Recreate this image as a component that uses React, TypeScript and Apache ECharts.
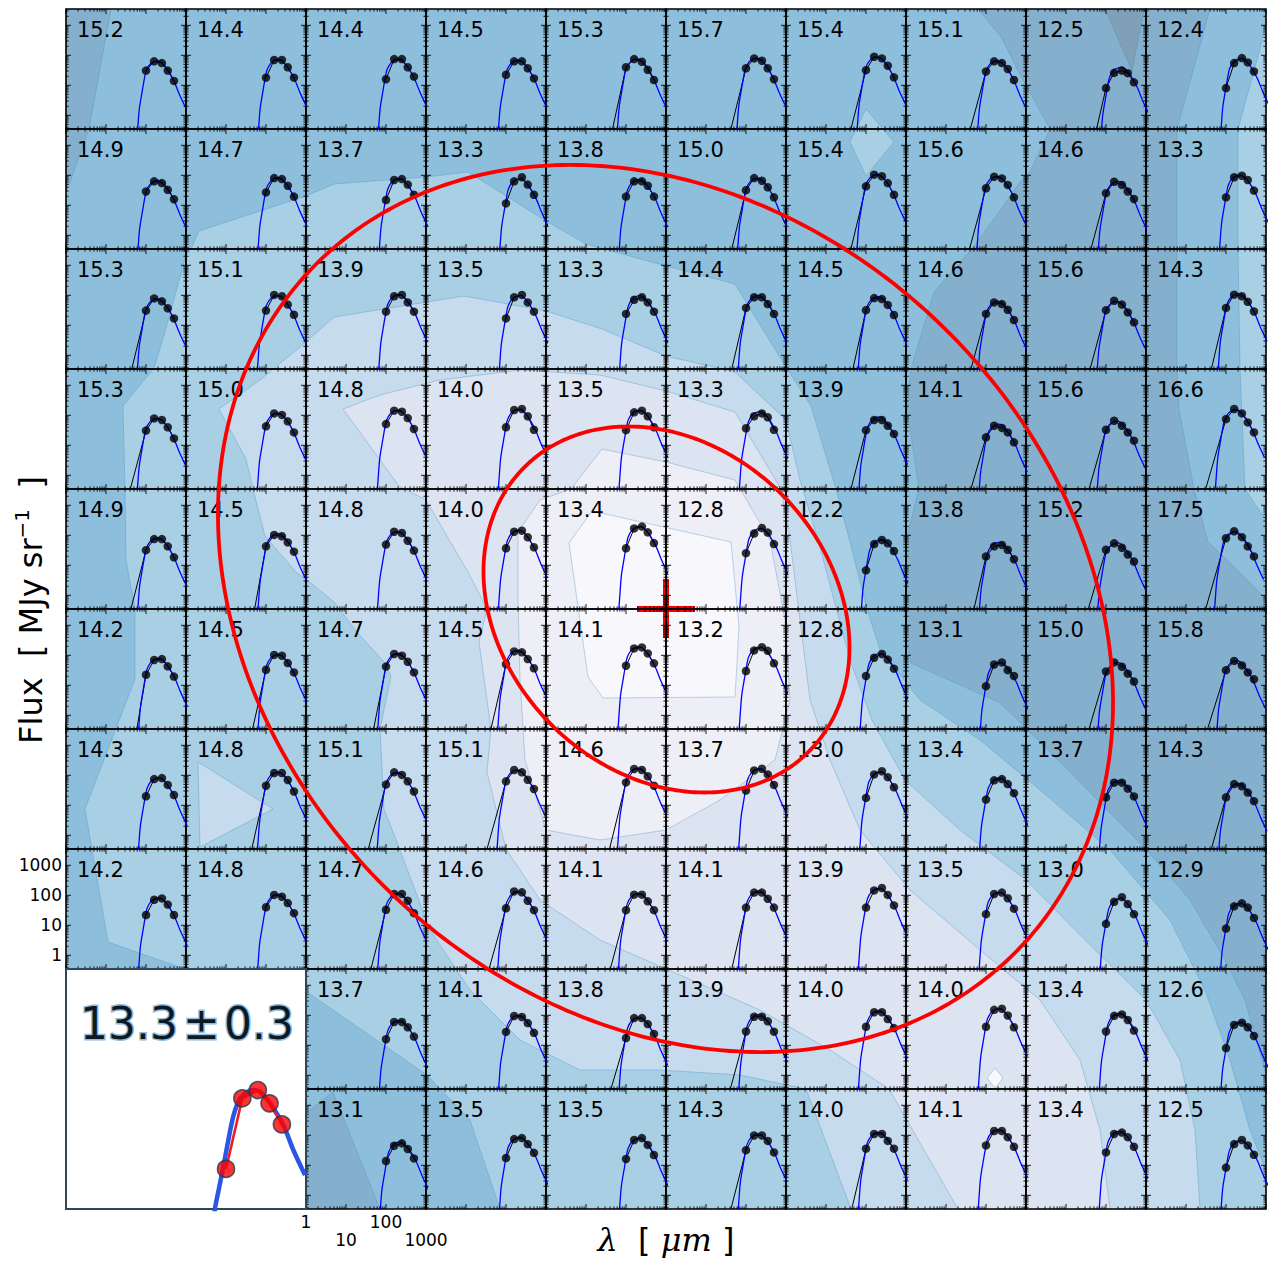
import React, { useEffect, useRef } from "react";
import * as echarts from "echarts";

// ---------------- data ----------------
const TEMPERATURES: (number | null)[][] = [
  [15.2, 14.4, 14.4, 14.5, 15.3, 15.7, 15.4, 15.1, 12.5, 12.4],
  [14.9, 14.7, 13.7, 13.3, 13.8, 15.0, 15.4, 15.6, 14.6, 13.3],
  [15.3, 15.1, 13.9, 13.5, 13.3, 14.4, 14.5, 14.6, 15.6, 14.3],
  [15.3, 15.0, 14.8, 14.0, 13.5, 13.3, 13.9, 14.1, 15.6, 16.6],
  [14.9, 14.5, 14.8, 14.0, 13.4, 12.8, 12.2, 13.8, 15.2, 17.5],
  [14.2, 14.5, 14.7, 14.5, 14.1, 13.2, 12.8, 13.1, 15.0, 15.8],
  [14.3, 14.8, 15.1, 15.1, 14.6, 13.7, 13.0, 13.4, 13.7, 14.3],
  [14.2, 14.8, 14.7, 14.6, 14.1, 14.1, 13.9, 13.5, 13.0, 12.9],
  [null, null, 13.7, 14.1, 13.8, 13.9, 14.0, 14.0, 13.4, 12.6],
  [null, null, 13.1, 13.5, 13.5, 14.3, 14.0, 14.1, 13.4, 12.5],
];

const WAVELENGTHS = [100, 160, 250, 350, 500];

const FLUX_ROW_0 = [[31, 63, 55, 31, 14], [18, 70, 70, 40, 18], [16, 75, 75, 40, 19.5], [22.5, 63, 63, 37, 17], [40, 75, 61, 33, 15], [37, 79, 66, 37, 16], [32, 90, 79, 45, 18.5], [29, 63, 55, 35, 15], [8.1, 26, 31, 25.5, 12.6], [8.1, 55, 81, 58, 29]];
const FLUX_ROW_1 = [[29, 63, 55, 33, 16], [27, 81, 75, 45, 19.5], [15, 70, 75, 49, 22.5], [11.6, 63, 86, 49, 22.5], [19.5, 63, 63, 45, 19.5], [32, 81, 66, 40, 18.5], [43, 105, 93, 55, 22.5], [37, 90, 79, 48, 18.5], [25.5, 61, 48, 29, 16.3], [18.5, 86, 97, 70, 31]];
const FLUX_ROW_2 = [[31, 79, 63, 37, 17], [31, 103, 93, 49, 22.5], [28.5, 93, 103, 58, 28.5], [17, 86, 103, 58, 28.5], [24, 71, 86, 58, 28.5], [38, 86, 86, 51, 24], [32, 81, 75, 48, 22], [24, 58, 51, 33, 15], [32, 66, 49, 27, 12.6], [38, 105, 93, 61, 29]];
const FLUX_ROW_3 = [[31, 79, 70, 40, 17], [43, 116, 103, 63, 27], [51, 143, 132, 81, 35], [40, 150, 163, 93, 33], [32, 126, 143, 93, 40], [37, 93, 116, 86, 33], [32, 70, 70, 45, 24], [18.5, 45, 38, 27, 12.6], [33, 66, 45, 27, 14.3], [75, 163, 116, 58, 27]];
const FLUX_ROW_4 = [[32, 75, 75, 43, 18.5], [43, 103, 93, 58, 28.5], [49, 132, 119, 66, 31], [37, 132, 143, 86, 40], [37, 170, 195, 126, 55], [25.5, 115, 175, 123, 51], [6.8, 51, 70, 54, 30], [19.8, 43, 48, 33, 16], [33, 54, 38.5, 23, 13.4], [80, 137, 87, 43, 19.8]];
const FLUX_ROW_5 = [[22.5, 70, 75, 43, 19.5], [33, 103, 97, 55, 27], [42, 111, 97, 61, 27], [51, 135, 126, 75, 37], [45, 170, 184, 116, 54], [30, 146, 187, 141, 54], [20.5, 83, 111, 72, 36], [9.4, 49.5, 58, 32, 20.5], [29, 58, 41.5, 24.5, 13.4], [32, 65, 46, 27, 16]];
const FLUX_ROW_6 = [[20, 75, 81, 48, 22], [45, 119, 119, 70, 29], [49, 126, 103, 63, 29], [63, 150, 126, 71, 35], [58, 163, 150, 93, 45], [31, 146, 165, 107, 48], [17.7, 107, 137, 87, 40], [15.5, 68, 75, 51, 25.5], [18.5, 57, 57, 36, 19.8], [18.5, 51, 43, 26.5, 13.8]];
const FLUX_ROW_7 = [[22, 71, 79, 49, 22], [40, 103, 90, 55, 25.5], [33, 111, 111, 66, 25.5], [37, 135, 126, 66, 32], [32, 105, 105, 63, 32], [39, 123, 123, 77, 39], [39, 146, 175, 103, 46], [23.5, 111, 123, 80, 36], [11.2, 61, 87, 51, 23.5], [7.8, 43, 54, 39, 17.7]];
const FLUX_ROW_8 = [null, null, [16, 60, 60, 40, 19.5], [28, 95, 88, 55, 26], [17.5, 81, 81, 51, 24], [29, 90, 90, 63, 28.5], [41.5, 127, 127, 75, 37.5], [41.5, 152, 165, 99, 40], [29, 96, 107, 70, 31], [8.1, 48, 57, 40, 20.5]];
const FLUX_ROW_9 = [null, null, [13.9, 45, 54, 35, 17], [17.5, 75, 81, 51, 26], [16.3, 70, 81, 48, 22], [32, 99, 99, 65, 27], [36, 111, 111, 65, 36], [46, 139, 139, 87, 41.5], [27, 111, 123, 87, 41.5], [8.4, 51, 70, 46, 22.5]];
const FLUX: (number[] | null)[][] = [FLUX_ROW_0, FLUX_ROW_1, FLUX_ROW_2, FLUX_ROW_3, FLUX_ROW_4, FLUX_ROW_5, FLUX_ROW_6, FLUX_ROW_7, FLUX_ROW_8, FLUX_ROW_9];

// wavelength where the black (observed) line leaves the bottom of a panel; null = hidden under the model curve
const LINE_START: (number | null)[][] = [
  [null, null, null, null, 46, 42, 42, 40.5, 58, null],
  [null, null, null, null, null, 44, 42, 38.7, 42, null],
  [44, null, null, null, null, 44, 47, 42, 40, 43],
  [40.5, null, null, null, null, null, 42, 42, 37.6, 31],
  [42, 52, null, null, null, null, null, 50, 36, 31],
  [59, 46, 49, 42, null, null, null, null, 37.6, 34.6],
  [null, 44, 36, 33.5, 38.7, null, null, null, null, 43],
  [null, null, 42, 37.6, 40.5, 44, null, null, null, null],
  [null, null, null, null, 42, 40.5, null, null, null, null],
  [null, null, null, null, null, 42, 44, null, null, null],
];

// model SED (blue curve)
const MODEL_T = 15.2;
const MODEL_WAVE = [58, 62, 68, 79.4, 90.6, 100, 126, 160, 200, 250, 350, 500, 680, 1000];
const MODEL_FLUX = [0.1, 0.35, 1.63, 5.85, 16.3, 30, 51, 63, 66, 57, 33, 14, 5.1, 1.7];

// inset (central pixel)
const INSET_LABEL_VALUE = "13.3";
const INSET_LABEL_PM = "±";
const INSET_LABEL_ERR = "0.3";
const INSET_WAVE = [70, 72.9, 82.5, 92.5, 107, 123, 142.5, 164.5, 209.5, 266, 355, 520, 694, 972];
const INSET_FLUX = [0.2, 0.36, 0.82, 1.77, 4.94, 12.1, 21.5, 27.8, 33.7, 31.6, 20.2, 8.8, 3.37, 1.29];
const INSET_DOTS = [1.63, 24.5, 33.6, 20.2, 9.0];

// axes
const X_RANGE = [1, 1000];
const Y_RANGE = [0.35, 3500];
const TICK_LABELS = [1, 10, 100, 1000];

// map overlay (in map pixel units)
const PEAK = [666, 609];
const ELLIPSE_OUTER = [665.5, 608.5, 490.6, 395.4, 43.8];
const ELLIPSE_INNER = [666.5, 609.5, 201.1, 162.9, 45];

// filled contour bands of the background map (vertices in map units)
const BAND_COLORS = ["#7fa0b7", "#84b0ce", "#8dbfdc", "#a9cfe5", "#c6dbed", "#dde4f1", "#edeef6", "#f8f7fb"];
const CONTOUR_BASE = [[66, 9], [1266, 9], [1266, 1209], [66, 1209]];
const CONTOUR_C1_TOPLEFT = [[66, 9], [111, 9], [89, 129], [70, 182], [66, 189]];
const CONTOUR_C1_RIGHT = [[978, 9], [1210, 9], [1177, 129], [1177, 369], [1179, 409], [1194, 489], [1208, 542], [1229, 562], [1266, 599], [1266, 1075], [1245, 1000], [1225, 960], [1190, 900], [1146, 849], [1026, 728], [999, 702], [960, 685], [911, 663], [906, 640], [906, 540], [919, 489], [907, 409], [911, 369], [919, 342], [934, 292], [972, 249], [999, 212], [1020, 182], [1030, 172], [1050, 129], [1022, 78], [1001, 37]];
const CONTOUR_C1_BOTTOM = [[306, 1113], [333, 1092], [380, 1209], [306, 1209]];
const CONTOUR_C0 = [[1105, 9], [1144, 9], [1132, 71]];
const CONTOUR_C3_MAIN = [[154, 368], [162, 342], [186, 256], [191, 249], [199, 231], [306, 196], [334, 184], [426, 177], [468, 172], [546, 221], [586, 244], [666, 266], [735, 284], [786, 367], [811, 406], [836, 489], [850, 542], [867, 609], [880, 650], [920, 700], [980, 740], [1040, 790], [1110, 850], [1170, 920], [1205, 990], [1230, 1060], [1250, 1130], [1266, 1170], [1266, 1209], [500, 1209], [470, 1120], [427, 1075], [307, 992], [306, 969], [185, 969], [108, 942], [85, 809], [135, 679], [135, 609], [126, 560], [125, 489], [123, 406]];
const CONTOUR_C3_RIGHT = [[1266, 20], [1260, 49], [1238, 129], [1238, 249], [1240, 369], [1245, 489], [1266, 520]];
const CONTOUR_C3_DIAMOND = [[866, 109], [894, 142], [866, 176], [850, 142]];
const CONTOUR_C4_MAIN = [[219, 409], [260, 380], [306, 342], [334, 317], [464, 296], [546, 311], [602, 329], [666, 356], [735, 372], [786, 420], [800, 480], [818, 540], [834, 600], [850, 660], [872, 720], [905, 780], [960, 830], [1026, 880], [1090, 945], [1146, 1000], [1180, 1060], [1195, 1130], [1200, 1209], [851, 1209], [806, 1089], [740, 1075], [660, 1070], [580, 1070], [520, 1040], [470, 990], [430, 930], [400, 850], [384, 809], [380, 729], [391, 676], [384, 662], [357, 632], [334, 602], [306, 579], [296, 572], [265, 536], [253, 489], [246, 459]];
const CONTOUR_C4_TRIANGLE = [[198, 762], [273, 809], [200, 847]];
const CONTOUR_C5_MAIN = [[343, 409], [399, 486], [426, 500], [468, 572], [487, 609], [479, 642], [491, 729], [487, 772], [506, 849], [540, 900], [600, 940], [680, 975], [760, 1010], [830, 1050], [889, 1089], [958, 1209], [1110, 1209], [1100, 1130], [1080, 1060], [1040, 1000], [980, 950], [910, 890], [860, 830], [830, 760], [810, 700], [800, 620], [790, 540], [781, 489], [735, 412], [666, 391], [600, 375], [520, 370], [440, 380], [380, 395]];
const CONTOUR_C6_MAIN = [[540, 500], [571, 489], [602, 449], [666, 462], [735, 480], [770, 540], [785, 620], [790, 700], [775, 760], [720, 800], [666, 830], [600, 840], [546, 830], [525, 760], [520, 680], [518, 600], [518, 532]];
const CONTOUR_C7_MAIN = [[569, 543], [592, 511], [731, 542], [739, 627], [735, 697], [603, 698], [588, 677]];
const CONTOUR_C7_SPOT = [[995, 1068], [1003, 1078], [995, 1088], [987, 1078]];

const CONTOURS: { band: number; pts: number[][]; edge: boolean }[] = [
  { band: 2, pts: CONTOUR_BASE, edge: false },
  { band: 1, pts: CONTOUR_C1_TOPLEFT, edge: true },
  { band: 1, pts: CONTOUR_C1_RIGHT, edge: true },
  { band: 1, pts: CONTOUR_C1_BOTTOM, edge: true },
  { band: 0, pts: CONTOUR_C0, edge: true },
  { band: 3, pts: CONTOUR_C3_MAIN, edge: true },
  { band: 3, pts: CONTOUR_C3_RIGHT, edge: true },
  { band: 3, pts: CONTOUR_C3_DIAMOND, edge: true },
  { band: 4, pts: CONTOUR_C4_MAIN, edge: true },
  { band: 4, pts: CONTOUR_C4_TRIANGLE, edge: true },
  { band: 5, pts: CONTOUR_C5_MAIN, edge: true },
  { band: 6, pts: CONTOUR_C6_MAIN, edge: true },
  { band: 7, pts: CONTOUR_C7_MAIN, edge: true },
  { band: 7, pts: CONTOUR_C7_SPOT, edge: true },
];

// ---------------- layout ----------------
const MAP_LEFT = 66;
const MAP_TOP = 9;
const PANEL = 120;
const NCOLS = 10;
const MAP_SIZE = PANEL * NCOLS;
const FONT = "DejaVu Sans";

function logInterp(xs: number[], ys: number[], x: number): number {
  const lx = Math.log10(x);
  for (let i = 0; i < xs.length - 1; i++) {
    const a = Math.log10(xs[i]);
    const b = Math.log10(xs[i + 1]);
    if (lx >= a && lx <= b) {
      const t = (lx - a) / (b - a);
      return Math.log10(ys[i]) * (1 - t) + Math.log10(ys[i + 1]) * t;
    }
  }
  return lx < Math.log10(xs[0]) ? Math.log10(ys[0]) : Math.log10(ys[ys.length - 1]);
}

// the read model shape, placed at the panel's temperature and flux level
function modelCurve(T: number, flux: number[]): number[][] {
  const s = MODEL_T / T;
  let diff = 0;
  WAVELENGTHS.forEach((w, j) => {
    diff += Math.log10(flux[j]) - logInterp(MODEL_WAVE, MODEL_FLUX, w / s);
  });
  const k = Math.pow(10, diff / WAVELENGTHS.length);
  return MODEL_WAVE.map((w, i) => [w * s, MODEL_FLUX[i] * k]);
}

function tickValues() {
  const xMajor = [1, 10, 100, 1000];
  const xMinor: number[] = [];
  const yMajor = [1, 10, 100, 1000];
  const yMinor: number[] = [];
  for (let e = 0; e < 3; e++) for (let m = 2; m <= 9; m++) xMinor.push(m * Math.pow(10, e));
  for (let e = -1; e < 4; e++)
    for (let m = 2; m <= 9; m++) {
      const v = m * Math.pow(10, e);
      if (v > Y_RANGE[0] && v < Y_RANGE[1]) yMinor.push(v);
    }
  return { xMajor, xMinor, yMajor, yMinor };
}
const TICKS = tickValues();

function panelDecor(label: string) {
  return (params: any, api: any) => {
    const cs = params.coordSys;
    const x0 = cs.x;
    const y0 = cs.y;
    const x1 = cs.x + cs.width;
    const y1 = cs.y + cs.height;
    let d = "";
    const addX = (v: number, len: number) => {
      const px = api.coord([v, Y_RANGE[0]])[0];
      d += `M${px} ${y1}L${px} ${y1 - len}M${px} ${y0}L${px} ${y0 + len}`;
    };
    const addY = (v: number, len: number) => {
      const py = api.coord([X_RANGE[0], v])[1];
      d += `M${x0} ${py}L${x0 + len} ${py}M${x1} ${py}L${x1 - len} ${py}`;
    };
    TICKS.xMajor.forEach((v) => addX(v, 5));
    TICKS.xMinor.forEach((v) => addX(v, 2.6));
    TICKS.yMajor.forEach((v) => addY(v, 5));
    TICKS.yMinor.forEach((v) => addY(v, 2.6));
    return {
      type: "group",
      children: [
        { type: "path", shape: { pathData: d }, style: { stroke: "#000", lineWidth: 0.9, fill: "none" } },
        {
          type: "text",
          x: x0 + 11,
          y: y0 + 20.5,
          style: { text: label, fill: "#000", fontSize: 21, fontFamily: FONT, align: "left", verticalAlign: "middle" },
        },
      ],
    };
  };
}

function buildOption() {
  const grid: any[] = [];
  const xAxis: any[] = [];
  const yAxis: any[] = [];
  const series: any[] = [];

  // background map coordinate system
  grid.push({ left: MAP_LEFT, top: MAP_TOP, width: MAP_SIZE, height: MAP_SIZE, show: false });
  xAxis.push({ gridIndex: 0, type: "value", min: MAP_LEFT, max: MAP_LEFT + MAP_SIZE, show: false });
  yAxis.push({ gridIndex: 0, type: "value", min: MAP_TOP, max: MAP_TOP + MAP_SIZE, inverse: true, show: false });

  series.push({
    type: "custom",
    xAxisIndex: 0,
    yAxisIndex: 0,
    z: 1,
    silent: true,
    data: CONTOURS.map((_, i) => [MAP_LEFT + 1, MAP_TOP + 1, i]),
    renderItem: (params: any, api: any) => {
      const c = CONTOURS[api.value(2)];
      return {
        type: "polygon",
        shape: { points: c.pts.map((p) => api.coord(p)) },
        style: { fill: BAND_COLORS[c.band], stroke: c.edge ? "rgba(70,140,190,0.5)" : "none", lineWidth: 0.7 },
      };
    },
  });

  // peak cross
  series.push({
    type: "custom",
    xAxisIndex: 0,
    yAxisIndex: 0,
    z: 3,
    silent: true,
    data: [PEAK],
    renderItem: (params: any, api: any) => {
      const p = api.coord([api.value(0), api.value(1)]);
      return {
        type: "group",
        children: [
          { type: "rect", shape: { x: p[0] - 29, y: p[1] - 3, width: 58, height: 6 }, style: { fill: "#ff0000" } },
          { type: "rect", shape: { x: p[0] - 3, y: p[1] - 30, width: 6, height: 59 }, style: { fill: "#ff0000" } },
        ],
      };
    },
  });

  // ellipses
  series.push({
    type: "custom",
    xAxisIndex: 0,
    yAxisIndex: 0,
    z: 20,
    silent: true,
    data: [ELLIPSE_OUTER, ELLIPSE_INNER],
    renderItem: (params: any, api: any) => {
      const cx = api.value(0), cy = api.value(1), a = api.value(2), b = api.value(3);
      const ang = (api.value(4) * Math.PI) / 180;
      const pts: number[][] = [];
      for (let k = 0; k <= 360; k++) {
        const t = (k / 360) * 2 * Math.PI;
        const x = cx + a * Math.cos(t) * Math.cos(ang) - b * Math.sin(t) * Math.sin(ang);
        const y = cy + a * Math.cos(t) * Math.sin(ang) + b * Math.sin(t) * Math.cos(ang);
        pts.push(api.coord([x, y]));
      }
      return { type: "polyline", shape: { points: pts }, style: { stroke: "#ff0000", lineWidth: 3.8, fill: "none" } };
    },
  });

  let gi = 1;
  for (let r = 0; r < TEMPERATURES.length; r++) {
    for (let c = 0; c < NCOLS; c++) {
      const T = TEMPERATURES[r][c];
      const flux = FLUX[r][c];
      if (T == null || flux == null) continue;
      const showY = r === 7 && c === 0;
      const showX = r === 9 && c === 2;
      grid.push({
        left: MAP_LEFT + PANEL * c,
        top: MAP_TOP + PANEL * r,
        width: PANEL,
        height: PANEL,
        show: true,
        z: 5,
        backgroundColor: "transparent",
        borderColor: "#000",
        borderWidth: 1.6,
      });
      xAxis.push(
        showX
          ? {
              gridIndex: gi, type: "log", min: X_RANGE[0], max: X_RANGE[1], position: "bottom",
              axisLine: { show: false }, axisTick: { show: false }, splitLine: { show: false }, minorTick: { show: false },
              axisLabel: {
                show: true, margin: 4, color: "#000", fontSize: 17, fontFamily: FONT, lineHeight: 18,
                showMinLabel: true, showMaxLabel: true,
                formatter: (v: number) => {
                  const t = TICK_LABELS.find((q) => Math.abs(v - q) < q * 1e-6);
                  if (t == null) return "";
                  return t === 10 || t === 1000 ? "\n" + t : String(t);
                },
              },
            }
          : { gridIndex: gi, type: "log", min: X_RANGE[0], max: X_RANGE[1], show: false }
      );
      yAxis.push(
        showY
          ? {
              gridIndex: gi, type: "log", min: Y_RANGE[0], max: Y_RANGE[1], position: "left",
              axisLine: { show: false }, axisTick: { show: false }, splitLine: { show: false }, minorTick: { show: false },
              axisLabel: {
                show: true, margin: 4, color: "#000", fontSize: 17, fontFamily: FONT,
                formatter: (v: number) => {
                  const t = TICK_LABELS.find((q) => Math.abs(v - q) < q * 1e-6);
                  return t == null ? "" : String(t);
                },
              },
            }
          : { gridIndex: gi, type: "log", min: Y_RANGE[0], max: Y_RANGE[1], show: false }
      );

      const dots = WAVELENGTHS.map((w, j) => [w, flux[j]]);
      const start = LINE_START[r][c];
      const black = start != null ? [[start, Y_RANGE[0]], ...dots] : dots;
      series.push({
        type: "line", xAxisIndex: gi, yAxisIndex: gi, data: black, symbol: "none", silent: true, z: 6,
        lineStyle: { color: "#000", width: 1 },
      });
      series.push({
        type: "line", xAxisIndex: gi, yAxisIndex: gi, data: modelCurve(T, flux), symbol: "none", silent: true, z: 7,
        smooth: 0.3, lineStyle: { color: "#0000ff", width: 1.3 },
      });
      series.push({
        type: "scatter", xAxisIndex: gi, yAxisIndex: gi, data: dots, symbol: "circle", symbolSize: 8.5, silent: true, z: 8,
        itemStyle: { color: "#000" },
      });
      series.push({
        type: "custom", xAxisIndex: gi, yAxisIndex: gi, data: [[10, 10]], silent: true, z: 9,
        renderItem: panelDecor(T.toFixed(1)),
      });
      gi++;
    }
  }

  // inset
  grid.push({
    left: MAP_LEFT, top: MAP_TOP + PANEL * 8, width: PANEL * 2, height: PANEL * 2, show: true, z: 10,
    backgroundColor: "#ffffff", borderColor: "#2f4558", borderWidth: 2,
  });
  xAxis.push({ gridIndex: gi, type: "log", min: X_RANGE[0], max: X_RANGE[1], show: false });
  yAxis.push({ gridIndex: gi, type: "log", min: Y_RANGE[0], max: Y_RANGE[1], show: false });
  series.push({
    type: "line", xAxisIndex: gi, yAxisIndex: gi, data: INSET_WAVE.map((w, i) => [w, INSET_FLUX[i]]),
    symbol: "none", silent: true, z: 11, smooth: 0.3, lineStyle: { color: "#2a56e6", width: 4.5 },
  });
  series.push({
    type: "line", xAxisIndex: gi, yAxisIndex: gi, data: WAVELENGTHS.map((w, j) => [w, INSET_DOTS[j]]),
    symbol: "none", silent: true, z: 12, lineStyle: { color: "#ee1c24", width: 2.6 },
  });
  series.push({
    type: "scatter", xAxisIndex: gi, yAxisIndex: gi, data: WAVELENGTHS.map((w, j) => [w, INSET_DOTS[j]]),
    symbol: "circle", symbolSize: 17, silent: true, z: 13,
    itemStyle: { color: "#ff0000", borderColor: "#27384a", borderWidth: 1.6 },
  });
  series.push({
    type: "custom", xAxisIndex: gi, yAxisIndex: gi, data: [[10, 10]], silent: true, z: 14,
    renderItem: (params: any) => {
      const cs = params.coordSys;
      const base = {
        fill: "#0c1a24", fontSize: 44, fontFamily: FONT, align: "left", verticalAlign: "middle",
        stroke: "rgba(120,170,210,0.8)", lineWidth: 3, strokeFirst: true,
      };
      return {
        type: "group",
        children: [
          { type: "text", x: cs.x + 14, y: cs.y + 54, style: { ...base, text: INSET_LABEL_VALUE } },
          { type: "text", x: cs.x + 117, y: cs.y + 54, style: { ...base, text: INSET_LABEL_PM } },
          { type: "text", x: cs.x + 158, y: cs.y + 54, style: { ...base, text: INSET_LABEL_ERR } },
        ],
      };
    },
  });

  const graphic = [
    {
      type: "text",
      x: 31,
      y: 610,
      rotation: Math.PI / 2,
      z: 30,
      style: {
        text: "{n|Flux  [ MJy sr}{s|−1}{n|  ]}",
        align: "center",
        verticalAlign: "middle",
        rich: {
          n: { fontSize: 32, fontFamily: FONT, fill: "#000", lineHeight: 38 },
          s: { fontSize: 20, fontFamily: FONT, fill: "#000", lineHeight: 24, verticalAlign: "top" },
        },
      },
    },
    {
      type: "text",
      x: 666,
      y: 1240,
      z: 30,
      style: {
        text: "{m|λ}{n|  [ }{m|μm}{n| ]}",
        align: "center",
        verticalAlign: "middle",
        rich: {
          m: { fontSize: 32, fontFamily: "DejaVu Serif", fontStyle: "italic", fill: "#000" },
          n: { fontSize: 32, fontFamily: FONT, fill: "#000" },
        },
      },
    },
  ];

  return { animation: false, backgroundColor: "#ffffff", grid, xAxis, yAxis, series, graphic };
}

export default function App() {
  const ref = useRef<HTMLDivElement>(null);
  useEffect(() => {
    if (!ref.current) return;
    const chart = echarts.init(ref.current, null, { renderer: "svg" });
    chart.setOption(buildOption());
    return () => chart.dispose();
  }, []);
  return <div ref={ref} style={{ position: "absolute", left: 0, top: 0, width: 1276, height: 1270, background: "#fff" }} />;
}
